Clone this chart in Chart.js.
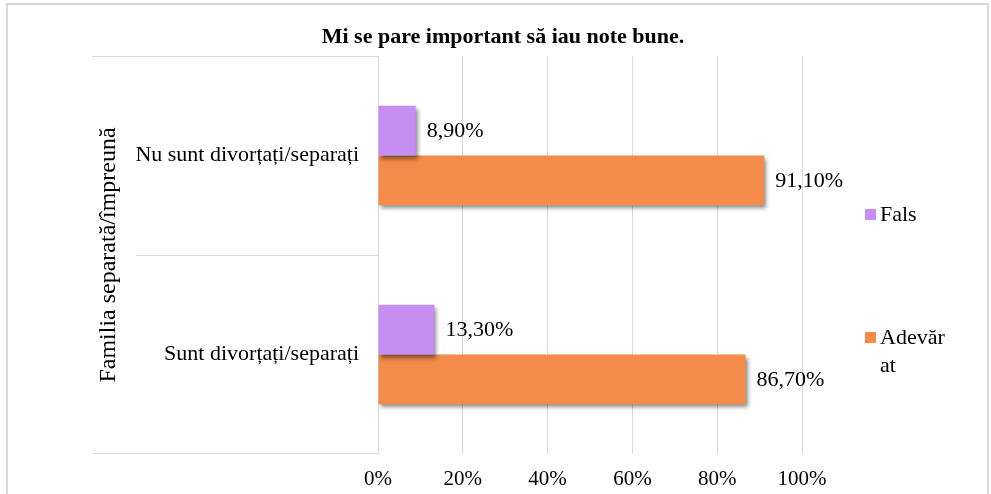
<!DOCTYPE html>
<html>
<head>
<meta charset="utf-8">
<script src="https://cdn.jsdelivr.net/npm/chart.js@4/dist/chart.umd.min.js"></script>
<style>
  html, body { margin: 0; padding: 0; background: #fff; }
  #wrap { width: 991px; height: 494px; }
</style>
</head>
<body>
<div id="wrap"><canvas id="myChart" width="991" height="494"></canvas></div>
<script>
// data
const categories = ['Nu sunt divorțați/separați', 'Sunt divorțați/separați'];
const seriesNames = ['Fals', 'Adevărat'];
const falsValues = [8.9, 13.3];
const adevaratValues = [91.1, 86.7];
const xTicks = [0, 20, 40, 60, 80, 100];
const chartTitle = 'Mi se pare important să iau note bune.';
const yAxisTitle = 'Familia separată/împreună';

const colors = ['#c68ef2', '#f48b4b'];
const serif = '"Liberation Serif", "Times New Roman", serif';
const gridColor = '#d9d9d9';

function fmt(v) {
    return v.toFixed(2).replace('.', ',') + '%';
}

// frame, title, category separators
const framePlugin = {
    id: 'frame',
    beforeDraw(chart) {
        const ctx = chart.ctx;
        ctx.save();
        ctx.fillStyle = '#fff';
        ctx.fillRect(0, 0, chart.width, chart.height);
        ctx.strokeStyle = '#d9d9d9';
        ctx.lineWidth = 2;
        ctx.strokeRect(7, 4, 981, 500);
        ctx.fillStyle = '#000';
        ctx.font = 'bold 22px ' + serif;
        ctx.textAlign = 'center';
        ctx.textBaseline = 'middle';
        ctx.fillText(chartTitle, 503, 37);
        ctx.restore();
    },
    afterDraw(chart) {
        const ctx = chart.ctx;
        const area = chart.chartArea;
        const y = chart.scales.y;
        const mid = (y.getPixelForValue(0) + y.getPixelForValue(1)) / 2;
        ctx.save();
        ctx.strokeStyle = gridColor;
        ctx.lineWidth = 1;
        ctx.beginPath();
        ctx.moveTo(92, area.top + 0.5); ctx.lineTo(area.left, area.top + 0.5);
        ctx.moveTo(136, Math.round(mid) + 0.5); ctx.lineTo(area.left, Math.round(mid) + 0.5);
        ctx.moveTo(92, area.bottom - 0.5); ctx.lineTo(area.left, area.bottom - 0.5);
        ctx.stroke();
        ctx.restore();
    }
};

// shadow under bars + value labels
const barDecor = {
    id: 'barDecor',
    beforeDatasetsDraw(chart) {
        const ctx = chart.ctx;
        ctx.save();
        ctx.shadowColor = 'rgba(0,0,0,0.45)';
        ctx.shadowOffsetX = 2;
        ctx.shadowOffsetY = 3;
        ctx.shadowBlur = 4;
    },
    afterDatasetsDraw(chart) {
        const ctx = chart.ctx;
        ctx.restore();
        ctx.save();
        ctx.fillStyle = '#000';
        ctx.font = '22px ' + serif;
        ctx.textAlign = 'left';
        ctx.textBaseline = 'middle';
        chart.data.datasets.forEach((ds, i) => {
            chart.getDatasetMeta(i).data.forEach((bar, j) => {
                ctx.fillText(fmt(ds.data[j]), bar.x + 11, bar.y + 1);
            });
        });
        ctx.restore();
    }
};

// legend on the right, wrapped like the original
const sideLegend = {
    id: 'sideLegend',
    afterDraw(chart) {
        const ctx = chart.ctx;
        const itemY = [215, 338];
        const x = chart.chartArea.right + 63;
        ctx.save();
        ctx.font = '22px ' + serif;
        ctx.textAlign = 'left';
        ctx.textBaseline = 'middle';
        chart.data.datasets.forEach((ds, i) => {
            ctx.fillStyle = ds.backgroundColor;
            ctx.fillRect(x, itemY[i] - 6, 11, 11);
            ctx.fillStyle = '#000';
            // break the label where it gets too wide
            let lines = [''];
            for (const ch of ds.label) {
                const cur = lines[lines.length - 1];
                if (ctx.measureText(cur + ch).width > 68 && cur) lines.push(ch);
                else lines[lines.length - 1] = cur + ch;
            }
            lines.forEach((ln, k) => ctx.fillText(ln, x + 15, itemY[i] + k * 28));
        });
        ctx.restore();
    }
};

const ctx = document.getElementById('myChart').getContext('2d');
new Chart(ctx, {
    type: 'bar',
    data: {
        labels: categories,
        datasets: [
            { label: seriesNames[0], data: falsValues, backgroundColor: colors[0] },
            { label: seriesNames[1], data: adevaratValues, backgroundColor: colors[1] }
        ]
    },
    options: {
        indexAxis: 'y',
        responsive: false,
        animation: false,
        layout: { padding: { top: 56, right: 189, left: 0, bottom: 0 } },
        datasets: {
            bar: { categoryPercentage: 0.5, barPercentage: 1.0 }
        },
        scales: {
            x: {
                min: 0,
                max: 100,
                afterFit(scale) { scale.height = 40; },
                afterBuildTicks(scale) { scale.ticks = xTicks.map(v => ({ value: v })); },
                grid: { color: gridColor, drawTicks: false },
                border: { display: false },
                ticks: {
                    padding: 13,
                    color: '#000',
                    font: { family: serif, size: 21 },
                    callback: v => v + '%'
                }
            },
            y: {
                afterFit(scale) { scale.width = 378; },
                grid: { display: false },
                border: { display: false },
                ticks: {
                    padding: 11,
                    color: '#000',
                    font: { family: serif, size: 22 }
                },
                title: {
                    display: true,
                    text: yAxisTitle,
                    color: '#000',
                    font: { family: serif, size: 24 },
                    padding: { top: 94, bottom: 0 }
                }
            }
        },
        plugins: {
            legend: { display: false },
            tooltip: { enabled: false }
        }
    },
    plugins: [framePlugin, barDecor, sideLegend]
});
</script>
</body>
</html>
